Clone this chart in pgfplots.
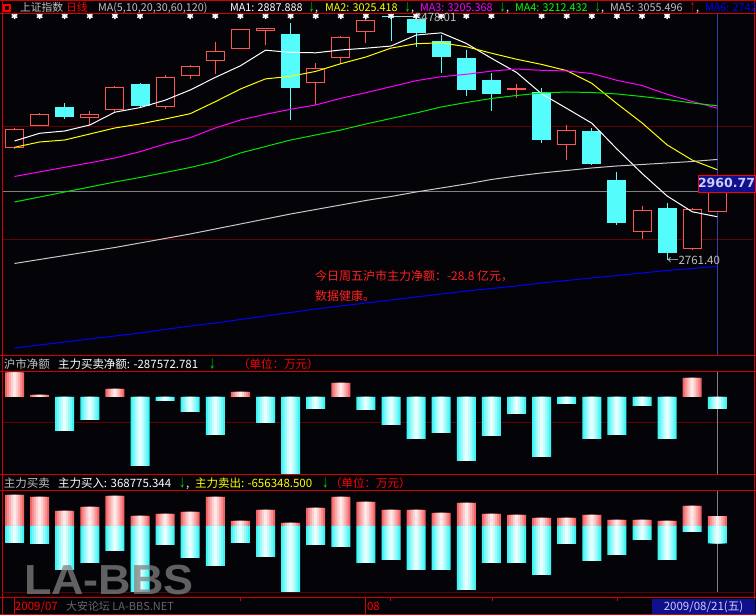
\documentclass[border=0pt]{standalone}
\usepackage{graphicx}
\usepackage{pgfplots}
\pgfplotsset{compat=1.18}
\usepackage{pgfplotstable}
\usepackage{fontspec}
\setmainfont{Noto Sans CJK SC}
\newfontfamily\boxfont{DejaVu Sans}
\newfontfamily\wmfont{Liberation Sans}

\definecolor{bg}{RGB}{4,4,8}
\definecolor{frameRed}{RGB}{210,0,0}
\definecolor{gridRed}{RGB}{96,0,0}
\definecolor{cRed}{RGB}{255,84,84}
\definecolor{cCyan}{RGB}{84,252,252}
\definecolor{txtGrey}{RGB}{192,192,192}
\definecolor{maYellow}{RGB}{255,255,0}
\definecolor{maMag}{RGB}{255,0,255}
\definecolor{maGreen}{RGB}{0,230,0}
\definecolor{maGrey}{RGB}{200,200,200}
\definecolor{maBlue}{RGB}{0,0,255}
\definecolor{arrGreen}{RGB}{0,255,0}
\definecolor{pinkE}{RGB}{245,100,100}
\definecolor{pinkM}{RGB}{255,232,232}
\definecolor{cyanE}{RGB}{60,245,245}
\definecolor{cyanM}{RGB}{232,255,255}
\definecolor{navy}{RGB}{16,16,140}
\definecolor{lav}{RGB}{205,205,255}
\definecolor{cursorBlue}{RGB}{60,60,170}
\definecolor{annRed}{RGB}{255,32,32}

% up (red hollow) candles
\pgfplotstableread{
i open high low close
1 3088.99 3147.49 3086.06 3144.56
2 3153.34 3189.90 3151.90 3188.44
4 3176.74 3197.21 3156.26 3188.44
5 3200.14 3270.34 3194.29 3267.41
7 3208.91 3302.51 3203.06 3296.66
8 3299.59 3331.76 3290.81 3328.84
9 3343.46 3399.04 3305.44 3372.71
10 3378.56 3437.06 3378.56 3437.06
11 3431.21 3439.99 3390.26 3439.99
13 3279.11 3337.61 3214.76 3322.99
14 3352.24 3416.59 3334.69 3413.66
15 3428.29 3464.85 3396.11 3463.39
21 3258.64 3276.19 3235.24 3264.49
23 3097.76 3156.26 3053.89 3141.64
26 2843.29 2919.34 2822.81 2907.64
28 2793.56 2913.49 2790.00 2910.56
29 2901.79 2960.77 2901.79 2960.77
}\upT
% down (cyan filled) candles
\pgfplotstableread{
i open high low close
3 3208.91 3220.61 3173.81 3179.66
6 3276.19 3279.11 3208.91 3211.84
12 3422.44 3454.61 3170.89 3264.49
16 3476.00 3478.01 3401.96 3471.44
17 3466.31 3469.24 3384.41 3425.36
18 3401.96 3419.51 3308.36 3355.16
19 3352.24 3375.64 3241.09 3258.64
20 3287.89 3308.36 3197.21 3246.94
22 3252.79 3264.49 3103.61 3112.39
24 3138.71 3147.49 3039.26 3042.19
25 2995.39 3018.79 2863.76 2869.61
27 2913.49 2928.11 2761.40 2781.86
}\downT
% moving averages
\pgfplotstableread{
i ma5 ma10 ma20 ma30 ma60 ma120
1 3109.46 3091.03 3005.62 2931.04 2751.15 2503.99
2 3131.99 3106.54 3019.07 2945.66 2762.85 2512.76
3 3138.71 3112.39 3032.53 2960.29 2774.55 2521.54
4 3156.26 3129.94 3045.69 2974.91 2786.25 2530.31
5 3193.70 3147.49 3059.73 2989.54 2797.95 2539.09
6 3207.16 3159.19 3078.16 3002.70 2811.11 2547.86
7 3228.80 3173.81 3100.68 3017.31 2824.27 2558.10
8 3258.64 3189.31 3119.11 3031.95 2837.44 2568.34
9 3295.49 3224.41 3147.49 3049.50 2852.06 2577.11
10 3329.42 3261.56 3170.89 3074.36 2866.69 2587.35
11 3375.05 3291.11 3187.56 3093.34 2881.31 2597.58
12 3368.62 3298.71 3202.18 3112.39 2895.94 2607.82
13 3367.45 3313.04 3214.76 3127.01 2909.10 2618.06
14 3375.64 3335.57 3234.36 3141.64 2922.26 2626.84
15 3380.90 3355.16 3250.74 3159.19 2935.42 2635.61
16 3387.19 3381.12 3268.29 3175.27 2947.12 2644.39
17 3419.37 3393.99 3285.84 3191.36 2960.29 2653.16
18 3425.80 3396.63 3297.54 3208.91 2971.99 2661.94
19 3394.80 3385.22 3304.56 3222.07 2983.69 2670.71
20 3351.51 3366.21 3313.88 3233.77 2996.85 2678.02
21 3310.12 3348.66 3319.88 3242.55 3007.09 2685.34
22 3247.52 3333.45 3316.08 3249.86 3015.86 2694.11
23 3204.82 3315.31 3314.18 3252.79 3023.20 2701.43
24 3161.53 3278.16 3306.86 3251.32 3030.49 2708.74
25 3086.06 3218.79 3286.97 3246.94 3036.34 2716.05
26 3014.69 3162.41 3271.76 3239.63 3040.72 2723.36
27 2948.59 3098.06 3246.02 3230.85 3045.11 2730.67
28 2902.37 3053.60 3225.11 3220.61 3049.50 2736.52
29 2887.89 3025.42 3205.37 3212.43 3055.50 2742.95
}\maT
% net amount (10k yuan)
\pgfplotstableread{
i v
1 587000
2 47900
5 191700
10 119800
14 335500
28 455300
}\netPos
\pgfplotstableread{
i v
3 -814800
4 -551200
6 -1653500
7 -95900
8 -359500
9 -910600
11 -623100
12 -1869200
13 -287600
15 -311500
16 -671000
17 -1006500
18 -862700
19 -1533700
20 -934600
21 -407400
22 -1437800
23 -167700
24 -1006500
25 -910600
26 -215700
27 -1006500
29 -287572.781
}\netNeg
% main buy / sell (10k yuan)
\pgfplotstableread{
i buy sell
1 1168700 -640900
2 1093300 -678600
3 565500 -1658800
4 716300 -1394900
5 1131000 -942500
6 377000 -2488200
7 452400 -716300
8 527800 -1206400
9 1093300 -1508000
10 188500 -640900
11 603200 -1168700
12 113100 -2488200
13 678600 -716300
14 1093300 -791700
15 904800 -1394900
16 603200 -1281800
17 603200 -1658800
18 490100 -1658800
19 867100 -2412800
20 452400 -1394900
21 414700 -1394900
22 301600 -1847300
23 301600 -678600
24 414700 -1319500
25 226200 -1093300
26 226200 -527800
27 188500 -1281800
28 754000 -226200
29 368775.344 -656348.500
}\bsT

\pgfplotsset{panel/.style={scale only axis, width=750pt, xmin=0.5418, xmax=30.422,
  hide axis, anchor=north west, clip=true},
  bl/.style 2 args={ybar, bar shift=0pt, draw=none, bar width=#1, fill=#2}}

\begin{document}
\begin{tikzpicture}[x=1pt,y=1pt]
\useasboundingbox (0,0) rectangle (756,615);
\clip (0,0) rectangle (756,615);
\fill[bg] (0,0) rectangle (756,615);
% inner grid lines
\draw[gridRed, line width=1pt] (3,488) -- (753,488) (3,375) -- (753,375) (3,192) -- (753,192);
% cursor lines
\draw[gray, line width=1pt] (3,423.2) -- (699,423.2);
\draw[cursorBlue, line width=1pt] (717.3,601) -- (717.3,259);
\draw[gray, line width=1pt] (717.3,243) -- (717.3,140) (717.3,124) -- (717.3,22);

% ---------------- main price panel
\begin{axis}[panel, at={(3pt,601pt)}, height=342pt, ymin=2480.585, ymax=3480.935]
\addplot[draw=none, mark=none, error bars/.cd, y dir=plus, y explicit, error mark=none,
  error bar style={draw=cRed, line width=1pt}]
  table[x=i, y=low, y error plus expr=\thisrow{high}-\thisrow{low}] {\upT};
\addplot[draw=none, mark=none, error bars/.cd, y dir=plus, y explicit, error mark=none,
  error bar style={draw=cRed, line width=19pt}]
  table[x=i, y=open, y error plus expr=\thisrow{close}-\thisrow{open}] {\upT};
\addplot[draw=none, mark=none, error bars/.cd, y dir=plus, y explicit, error mark=none,
  error bar style={draw=bg, line width=17pt}]
  table[x=i, y expr=\thisrow{open}+2.925, y error plus expr=\thisrow{close}-\thisrow{open}-5.85] {\upT};
\addplot[draw=none, mark=none, error bars/.cd, y dir=plus, y explicit, error mark=none,
  error bar style={draw=cCyan, line width=1pt}]
  table[x=i, y=low, y error plus expr=\thisrow{high}-\thisrow{low}] {\downT};
\addplot[draw=none, mark=none, error bars/.cd, y dir=plus, y explicit, error mark=none,
  error bar style={draw=cCyan, line width=19pt}]
  table[x=i, y=close, y error plus expr=\thisrow{open}-\thisrow{close}] {\downT};
\addplot[white, line width=1pt] table[x=i, y=ma5] {\maT};
\addplot[maYellow, line width=1pt] table[x=i, y=ma10] {\maT};
\addplot[maMag, line width=1pt] table[x=i, y=ma20] {\maT};
\addplot[maGreen, line width=1pt] table[x=i, y=ma30] {\maT};
\addplot[maGrey, line width=1pt] table[x=i, y=ma60] {\maT};
\addplot[maBlue, line width=1pt] table[x=i, y=ma120] {\maT};
\addplot[only marks, mark=asterisk, mark size=3.2pt, white, line width=1.5pt] coordinates {
(1,3475.1) (2,3475.1) (3,3475.1) (4,3475.1) (5,3475.1) (6,3475.1) (8,3475.1) (9,3475.1)
(10,3475.1) (11,3475.1) (12,3475.1) (13,3475.1) (14,3475.1) (15,3475.1) (16,3475.1)
(17,3475.1) (18,3475.1) (19,3475.1) (20,3475.1) (22,3475.1) (23,3475.1) (24,3475.1)
(25,3475.1) (26,3475.1) (27,3475.1)};
\end{axis}

% ---------------- net amount panel
\begin{axis}[panel, at={(3pt,243pt)}, height=102pt, ymin=-1845228, ymax=599100]
\addplot[bl={19pt}{pinkE}] table[x=i, y=v] {\netPos};
\addplot[bl={15pt}{pinkM!30!pinkE}] table[x=i, y=v] {\netPos};
\addplot[bl={11pt}{pinkM!55!pinkE}] table[x=i, y=v] {\netPos};
\addplot[bl={7pt}{pinkM!80!pinkE}] table[x=i, y=v] {\netPos};
\addplot[bl={3pt}{pinkM}] table[x=i, y=v] {\netPos};
\addplot[bl={19pt}{cyanE}] table[x=i, y=v] {\netNeg};
\addplot[bl={15pt}{cyanM!30!cyanE}] table[x=i, y=v] {\netNeg};
\addplot[bl={11pt}{cyanM!55!cyanE}] table[x=i, y=v] {\netNeg};
\addplot[bl={7pt}{cyanM!80!cyanE}] table[x=i, y=v] {\netNeg};
\addplot[bl={3pt}{cyanM}] table[x=i, y=v] {\netNeg};
\end{axis}

% ---------------- buy / sell panel
\begin{axis}[panel, at={(3pt,124pt)}, height=102pt, ymin=-2525900, ymax=1319500]
\addplot[bl={19pt}{pinkE}] table[x=i, y=buy] {\bsT};
\addplot[bl={15pt}{pinkM!30!pinkE}] table[x=i, y=buy] {\bsT};
\addplot[bl={11pt}{pinkM!55!pinkE}] table[x=i, y=buy] {\bsT};
\addplot[bl={7pt}{pinkM!80!pinkE}] table[x=i, y=buy] {\bsT};
\addplot[bl={3pt}{pinkM}] table[x=i, y=buy] {\bsT};
\addplot[bl={19pt}{cyanE}] table[x=i, y=sell] {\bsT};
\addplot[bl={15pt}{cyanM!30!cyanE}] table[x=i, y=sell] {\bsT};
\addplot[bl={11pt}{cyanM!55!cyanE}] table[x=i, y=sell] {\bsT};
\addplot[bl={7pt}{cyanM!80!cyanE}] table[x=i, y=sell] {\bsT};
\addplot[bl={3pt}{cyanM}] table[x=i, y=sell] {\bsT};
\end{axis}

% ---------------- frame lines
\draw[frameRed, line width=1pt]
  (0,614.5) -- (756,614.5) (0,601) -- (756,601) (0,259) -- (756,259) (0,243) -- (756,243)
  (0,140) -- (756,140) (0,124) -- (756,124) (0,17) -- (756,17) (0,0.5) -- (756,0.5)
  (2,0) -- (2,615) (754.5,0) -- (754.5,615)
  (14.5,17) -- (14.5,1) (365,17) -- (365,1);
\draw[gridRed, line width=1pt] (2,22) -- (754,22);
\draw[frameRed, line width=0.8pt] (240,17) -- (240,14) (390,17) -- (390,14) (492,17) -- (492,14) (617,17) -- (617,14);

% ---------------- texts
\begin{scope}[every node/.style={inner sep=0pt, outer sep=0pt, anchor=west,
  text height=8.5pt, text depth=2pt, font=\fontsize{11.5}{12}\selectfont}]
% header
\draw[red, line width=2pt] (4,604) rectangle (10,610);
\begin{scope}[every node/.append style={font=\fontsize{10.8}{12}\selectfont}]
\node[text=txtGrey] at (20,607) {上证指数};
\node[text=red] at (66,607) {日线};
\node[text=txtGrey] at (98,607) {MA(5,10,20,30,60,120)};
\node[text=white] at (230,607) {MA1: 2887.888};
\node[text=arrGreen] at (308.5,607) {\scalebox{0.55}[1]{↓}};
\node[text=white] at (315,607) {,};
\node[text=maYellow] at (325,607) {MA2: 3025.418};
\node[text=arrGreen] at (404.5,607) {\scalebox{0.55}[1]{↓}};
\node[text=white] at (411,607) {,};
\node[text=maMag] at (420,607) {MA3: 3205.368};
\node[text=arrGreen] at (499.5,607) {\scalebox{0.55}[1]{↓}};
\node[text=white] at (506,607) {,};
\node[text=arrGreen] at (515,607) {MA4: 3212.432};
\node[text=arrGreen] at (594.5,607) {\scalebox{0.55}[1]{↓}};
\node[text=white] at (601,607) {,};
\node[text=txtGrey] at (610,607) {MA5: 3055.496};
\node[text=red] at (689.5,607) {\scalebox{0.55}[1]{↑}};
\node[text=white] at (696,607) {,};
\node[text=maBlue] at (705,607) {MA6: 2742.950};
\end{scope}
% price labels
\draw[txtGrey, line width=1pt] (400,598) -- (414,598);
\node[text=txtGrey] at (415,596.75) {3478.01};
\node[text=txtGrey] at (667,353.75) {←2761.40};
\node[draw=red, fill=navy, text=lav, minimum width=55pt, minimum height=17pt, anchor=center,
  text height=9pt, text depth=0pt,
  font=\boxfont\bfseries\fontsize{12.5}{12}\selectfont] at (726.5,431.5) {2960.77};
% annotation
\node[text=annRed, font=\fontsize{12}{12}\selectfont] at (315,337.75) {今日周五沪市主力净额：-28.8 亿元，};
\node[text=annRed, font=\fontsize{12}{12}\selectfont] at (315,317.75) {数据健康。};
% middle header
\node[text=txtGrey] at (4,249.75) {沪市净额};
\node[text=white] at (58,249.75) {主力买卖净额: -287572.781};
\node[text=arrGreen] at (209,249.75) {\scalebox{0.55}[1]{↓}};
\node[text=red] at (238,249.75) {（单位：万元）};
% bottom header
\node[text=txtGrey] at (4,130.25) {主力买卖};
\node[text=white] at (58,130.25) {主力买入: 368775.344};
\node[text=arrGreen] at (179,130.25) {\scalebox{0.55}[1]{↓}};
\node[text=white] at (186,130.25) {,};
\node[text=maYellow] at (195,130.25) {主力卖出: -656348.500};
\node[text=arrGreen] at (322,130.25) {\scalebox{0.55}[1]{↓}};
\node[text=red] at (330,130.25) {（单位：万元）};
% date strip
\node[text=red] at (15,7.25) {2009/07};
\node[text=red] at (367,7.25) {08};
\node[fill=navy, text=lav, minimum width=103pt, minimum height=15pt, anchor=center] at (703.5,8) {2009/08/21(五)};
% watermarks
\node[text=gray, text opacity=0.75, text height=30pt, text depth=0pt,
  font=\wmfont\bfseries\fontsize{42}{42}\selectfont, xscale=1.07] at (24,35) {LA-BBS};
\node[text=gray!80!black, font=\fontsize{11}{11}\selectfont] at (66,7.25) {大安论坛 LA-BBS.NET};
\end{scope}
\end{tikzpicture}
\end{document}
